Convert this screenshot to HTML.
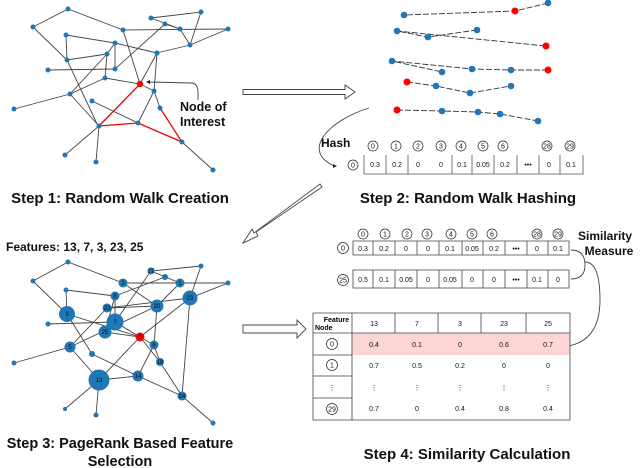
<!DOCTYPE html>
<html><head><meta charset="utf-8"><style>
html,body{margin:0;padding:0;background:#fff}
svg{display:block}
text{font-family:"Liberation Sans",Arial,sans-serif}
.b{font-weight:bold;fill:#111}
.e{stroke:#444;stroke-width:0.9;fill:none}
.r{stroke:#e00;stroke-width:1.3;fill:none}
.n{fill:#1f77b4}
.rd{fill:#f00}
.w{stroke:#333;stroke-width:0.9;stroke-dasharray:6 2;fill:none}
.c{fill:#fff;stroke:#222;stroke-width:0.7}
.ct{font-size:7px;text-anchor:middle;fill:#111}
.v{font-size:7px;text-anchor:middle;fill:#111}
.nl{font-size:6px;text-anchor:middle;fill:#111}
</style></head><body>
<svg width="640" height="468" viewBox="0 0 640 468" xmlns="http://www.w3.org/2000/svg">
<g class="e">
<path d="M33 27L68 9L123 30M33 27L67 60L98 126M68 9L123 30M151 18L201 12L190 45M151 18L180 29L190 45M165 24L115 69M123 30L228 29M123 30L140 84M66 35L67 60L107 54M66 35L115 43L115 69M115 43L107 54L70 94L14 109M115 43L157 53M157 53L190 45L228 29M157 53L140 84M157 53L154 91M48 70L115 69M107 54L105 78M105 78L140 84L154 91M105 78L70 94M70 94L99 126L96 162M99 126L65 155M92 101L138 123M138 123L154 91L160 108M182 142L213 170M140 84L157 53M180 29L165 24"/>
</g>
<path class="r" d="M140 84L99 126L138 123L182 142L160 108"/>
<g class="n">
<circle cx="68" cy="9" r="2.5"/><circle cx="33" cy="27" r="2.5"/><circle cx="151" cy="18" r="2.5"/><circle cx="201" cy="12" r="2.5"/><circle cx="165" cy="24" r="2.5"/><circle cx="180" cy="29" r="2.5"/><circle cx="123" cy="30" r="2.5"/><circle cx="228" cy="29" r="2.5"/><circle cx="66" cy="35" r="2.5"/><circle cx="115" cy="43" r="2.5"/><circle cx="190" cy="45" r="2.5"/><circle cx="157" cy="53" r="2.5"/><circle cx="107" cy="54" r="2.5"/><circle cx="67" cy="60" r="2.5"/><circle cx="48" cy="70" r="2.5"/><circle cx="115" cy="69" r="2.5"/><circle cx="105" cy="78" r="2.5"/><circle cx="154" cy="91" r="2.5"/><circle cx="70" cy="94" r="2.5"/><circle cx="14" cy="109" r="2.5"/><circle cx="92" cy="101" r="2.5"/><circle cx="160" cy="108" r="2.5"/><circle cx="99" cy="126" r="2.5"/><circle cx="138" cy="123" r="2.5"/><circle cx="182" cy="142" r="2.5"/><circle cx="65" cy="155" r="2.5"/><circle cx="96" cy="162" r="2.5"/><circle cx="213" cy="170" r="2.5"/>
</g>
<circle class="rd" cx="140" cy="84" r="3.2"/>
<path d="M148 82 L192 83 Q198 84 198 92 L198 100" class="e"/>
<path d="M146 82 l4 -2 v4z" fill="#222"/>
<text class="b" x="180" y="111" font-size="12.5">Node of</text>
<text class="b" x="180" y="126" font-size="12.5">Interest</text>
<text class="b" x="120" y="203" font-size="15" text-anchor="middle">Step 1: Random Walk Creation</text>

<path d="M243 89.5H345V85L355 92L345 99V94.5H243Z" fill="#fff" stroke="#444" stroke-width="0.9"/>

<path class="w" d="M548 3L515 11L404 15"/>
<path class="w" d="M477 30L428 37L397 31L546 46"/>
<path class="w" d="M548 70L511 70L472 69L392 61L442 72"/>
<path class="w" d="M407 82L436 86L470 93L511 86"/>
<path class="w" d="M397 110L442 111L478 112L500 114L538 121"/>
<g class="n">
<circle cx="404" cy="15" r="3.3"/><circle cx="548" cy="3" r="3.3"/>
<circle cx="397" cy="31" r="3.3"/><circle cx="428" cy="37" r="3.3"/><circle cx="477" cy="30" r="3.3"/>
<circle cx="392" cy="61" r="3.3"/><circle cx="442" cy="72" r="3.3"/><circle cx="472" cy="69" r="3.3"/><circle cx="511" cy="70" r="3.3"/>
<circle cx="436" cy="86" r="3.3"/><circle cx="470" cy="93" r="3.3"/><circle cx="511" cy="86" r="3.3"/>
<circle cx="442" cy="111" r="3.3"/><circle cx="478" cy="112" r="3.3"/><circle cx="500" cy="114" r="3.3"/><circle cx="538" cy="121" r="3.3"/>
</g>
<g class="rd"><circle cx="515" cy="11" r="3.5"/><circle cx="546" cy="46" r="3.5"/><circle cx="548" cy="70" r="3.5"/><circle cx="407" cy="82" r="3.5"/><circle cx="397" cy="110" r="3.5"/></g>

<path d="M369 108 C330 120 300 150 334 166" class="e"/>
<path d="M337 166 l-4 -2 v4z" fill="#222"/>
<text class="b" x="321" y="147" font-size="12">Hash</text>
<g>
<circle class="c" cx="353" cy="165" r="5"/><text class="ct" x="353" y="167.5">0</text>
<circle class="c" cx="373" cy="146" r="5"/><text class="ct" x="373" y="148.5">0</text>
<circle class="c" cx="396" cy="146" r="5"/><text class="ct" x="396" y="148.5">1</text>
<circle class="c" cx="418" cy="146" r="5"/><text class="ct" x="418" y="148.5">2</text>
<circle class="c" cx="441" cy="146" r="5"/><text class="ct" x="441" y="148.5">3</text>
<circle class="c" cx="461" cy="146" r="5"/><text class="ct" x="461" y="148.5">4</text>
<circle class="c" cx="483" cy="146" r="5"/><text class="ct" x="483" y="148.5">5</text>
<circle class="c" cx="503" cy="146" r="5"/><text class="ct" x="503" y="148.5">6</text>
<circle class="c" cx="547" cy="146" r="5"/><text class="ct" x="547" y="148.5">28</text>
<circle class="c" cx="570" cy="146" r="5"/><text class="ct" x="570" y="148.5">29</text>
</g>
<path d="M364 155V174H583V155M386 155V174M408 155V174M452 155V174M472 155V174M494 155V174M517 155V174M539 155V174M560 155V174" stroke="#555" stroke-width="0.8" fill="none"/>
<g class="v"><text x="375" y="167">0.3</text><text x="397" y="167">0.2</text><text x="418" y="167">0</text><text x="441" y="167">0</text><text x="462" y="167">0.1</text><text x="483" y="167">0.05</text><text x="505" y="167">0.2</text><text x="528" y="167">•••</text><text x="549" y="167">0</text><text x="571" y="167">0.1</text></g>
<text class="b" x="468" y="203" font-size="15" text-anchor="middle">Step 2: Random Walk Hashing</text>

<path d="M322 187 L256 232 L258 236 L243 243 L252 229 L254 233 L320 184Z" fill="#fff" stroke="#444" stroke-width="0.9"/>

<text class="b" x="6" y="251" font-size="12">Features: 13, 7, 3, 23, 25</text>
<g class="e">
<path d="M33 281L68 262L123 283L157 306M33 281L67 314L92 354L138 376M68 262L123 283M123 283L228 283M123 283L180 283M201 266L190 298L182 396M201 266L151 271L115 322M151 271L180 283L157 306M165 277L115 296L105 332M66 290L67 314M66 290L115 296M48 324L115 322L140 337M107 308L70 347L14 363M107 308L190 298L228 283M107 308L157 306M67 314L140 337M115 296L115 322M105 332L140 337L154 345L160 362L182 396L213 423M140 337L99 380L65 409M99 380L96 415M99 380L138 376L182 396M138 376L154 345L157 306M70 347L99 380M70 347L157 306M190 298L140 337M160 362L140 337"/>
</g>
<g class="n">
<circle cx="68" cy="262" r="2.5"/><circle cx="33" cy="281" r="2.5"/><circle cx="123" cy="283" r="4.5"/><circle cx="151" cy="271" r="3.5"/><circle cx="165" cy="277" r="3"/><circle cx="180" cy="283" r="4.5"/><circle cx="228" cy="283" r="2.5"/><circle cx="201" cy="266" r="2.5"/><circle cx="66" cy="290" r="2.5"/><circle cx="115" cy="296" r="4.5"/><circle cx="190" cy="298" r="7.5"/><circle cx="157" cy="306" r="6.5"/><circle cx="107" cy="308" r="4.5"/><circle cx="67" cy="314" r="8"/><circle cx="115" cy="322" r="8.5"/><circle cx="48" cy="324" r="2.5"/><circle cx="105" cy="332" r="6.5"/><circle cx="154" cy="345" r="4.5"/><circle cx="70" cy="347" r="5.5"/><circle cx="92" cy="354" r="3"/><circle cx="160" cy="362" r="4"/><circle cx="14" cy="363" r="2.5"/><circle cx="138" cy="376" r="5.5"/><circle cx="99" cy="380" r="10.5"/><circle cx="182" cy="396" r="4.5"/><circle cx="65" cy="409" r="2"/><circle cx="96" cy="415" r="2.5"/><circle cx="213" cy="423" r="2.5"/>
</g>
<circle class="rd" cx="140" cy="337" r="4.5"/>
<g class="nl"><text x="123" y="285">2</text><text x="180" y="285">1</text><text x="115" y="298">8</text><text x="190" y="300">23</text><text x="157" y="308">20</text><text x="107" y="310">22</text><text x="67" y="316">3</text><text x="115" y="324">7</text><text x="105" y="334">25</text><text x="154" y="347">6</text><text x="70" y="349">5</text><text x="138" y="378">14</text><text x="99" y="382">13</text><text x="182" y="398">24</text><text x="160" y="364">18</text><text x="140" y="339">0</text><text x="151" y="273">27</text></g>
<text class="b" x="120" y="448" font-size="14.5" text-anchor="middle">Step 3: PageRank Based Feature</text>
<text class="b" x="120" y="466" font-size="14.5" text-anchor="middle">Selection</text>

<g>
<circle class="c" cx="363" cy="234" r="5"/><text class="ct" x="363" y="236.5">0</text>
<circle class="c" cx="385" cy="234" r="5"/><text class="ct" x="385" y="236.5">1</text>
<circle class="c" cx="407" cy="234" r="5"/><text class="ct" x="407" y="236.5">2</text>
<circle class="c" cx="427" cy="234" r="5"/><text class="ct" x="427" y="236.5">3</text>
<circle class="c" cx="451" cy="234" r="5"/><text class="ct" x="451" y="236.5">4</text>
<circle class="c" cx="472" cy="234" r="5"/><text class="ct" x="472" y="236.5">5</text>
<circle class="c" cx="492" cy="234" r="5"/><text class="ct" x="492" y="236.5">6</text>
<circle class="c" cx="537" cy="234" r="5"/><text class="ct" x="537" y="236.5">28</text>
<circle class="c" cx="558" cy="234" r="5"/><text class="ct" x="558" y="236.5">29</text>
<circle class="c" cx="343" cy="248" r="5.5"/><text class="ct" x="343" y="250.5">0</text>
<circle class="c" cx="343" cy="280" r="5.5"/><text class="ct" x="343" y="282.5">25</text>
</g>
<path d="M353 241H569V255H353ZM373 241V255M395 241V255M417 241V255M439 241V255M462 241V255M483 241V255M505 241V255M527 241V255M548 241V255" stroke="#444" stroke-width="0.8" fill="#fff"/>
<path d="M353 270H569V288H353ZM373 270V288M395 270V288M417 270V288M439 270V288M462 270V288M483 270V288M505 270V288M527 270V288M548 270V288" stroke="#444" stroke-width="0.8" fill="#fff"/>
<g class="v"><text x="363" y="251">0.3</text><text x="384" y="251">0.2</text><text x="406" y="251">0</text><text x="428" y="251">0</text><text x="450" y="251">0.1</text><text x="472" y="251">0.05</text><text x="494" y="251">0.2</text><text x="516" y="251">•••</text><text x="537" y="251">0</text><text x="558" y="251">0.1</text>
<text x="363" y="282">0.5</text><text x="384" y="282">0.1</text><text x="406" y="282">0.05</text><text x="428" y="282">0</text><text x="450" y="282">0.05</text><text x="472" y="282">0</text><text x="494" y="282">0</text><text x="516" y="282">•••</text><text x="537" y="282">0.1</text><text x="558" y="282">0</text></g>
<path d="M571 250 Q585 250 585 265 Q585 279 571 279" class="e"/>
<path d="M585 262 Q600 262 600 300 Q600 345 560 347" class="e"/>
<path d="M557 347 l4 -2 v4z" fill="#222"/>
<text class="b" x="605" y="240" font-size="12" text-anchor="middle">Similarity</text>
<text class="b" x="609" y="255" font-size="12" text-anchor="middle">Measure</text>

<path d="M243 325H297V320L306 329L297 338V333H243Z" fill="#fff" stroke="#444" stroke-width="0.9"/>

<rect x="352" y="333" width="218" height="22" fill="#fdd5d5"/>
<path d="M313 313H570V420H313ZM352 313V420M395 313V333M438 313V333M481 313V333M526 313V333M352 333H570M313 333H352M313 355H352M313 376H352M313 398H352" stroke="#444" stroke-width="0.8" fill="none"/>
<text x="349" y="322" font-size="7" text-anchor="end" font-weight="bold">Feature</text>
<text x="315" y="330" font-size="7" font-weight="bold">Node</text>
<g class="v" font-size="7.5">
<text x="374" y="326">13</text><text x="417" y="326">7</text><text x="460" y="326">3</text><text x="504" y="326">23</text><text x="548" y="326">25</text>
<text x="374" y="347">0.4</text><text x="417" y="347">0.1</text><text x="460" y="347">0</text><text x="504" y="347">0.6</text><text x="548" y="347">0.7</text>
<text x="374" y="368">0.7</text><text x="417" y="368">0.5</text><text x="460" y="368">0.2</text><text x="504" y="368">0</text><text x="548" y="368">0</text>
<text x="374" y="390">⋮</text><text x="417" y="390">⋮</text><text x="460" y="390">⋮</text><text x="504" y="390">⋮</text><text x="548" y="390">⋮</text><text x="332" y="390">⋮</text>
<text x="374" y="411">0.7</text><text x="417" y="411">0</text><text x="460" y="411">0.4</text><text x="504" y="411">0.8</text><text x="548" y="411">0.4</text>
</g>
<circle class="c" cx="332" cy="344" r="5.5"/><text class="ct" x="332" y="346.5">0</text>
<circle class="c" cx="332" cy="365" r="5.5"/><text class="ct" x="332" y="367.5">1</text>
<circle class="c" cx="332" cy="409" r="5.5"/><text class="ct" x="332" y="411.5">29</text>
<text class="b" x="467" y="459" font-size="15" text-anchor="middle">Step 4: Similarity Calculation</text>
</svg>
</body></html>
